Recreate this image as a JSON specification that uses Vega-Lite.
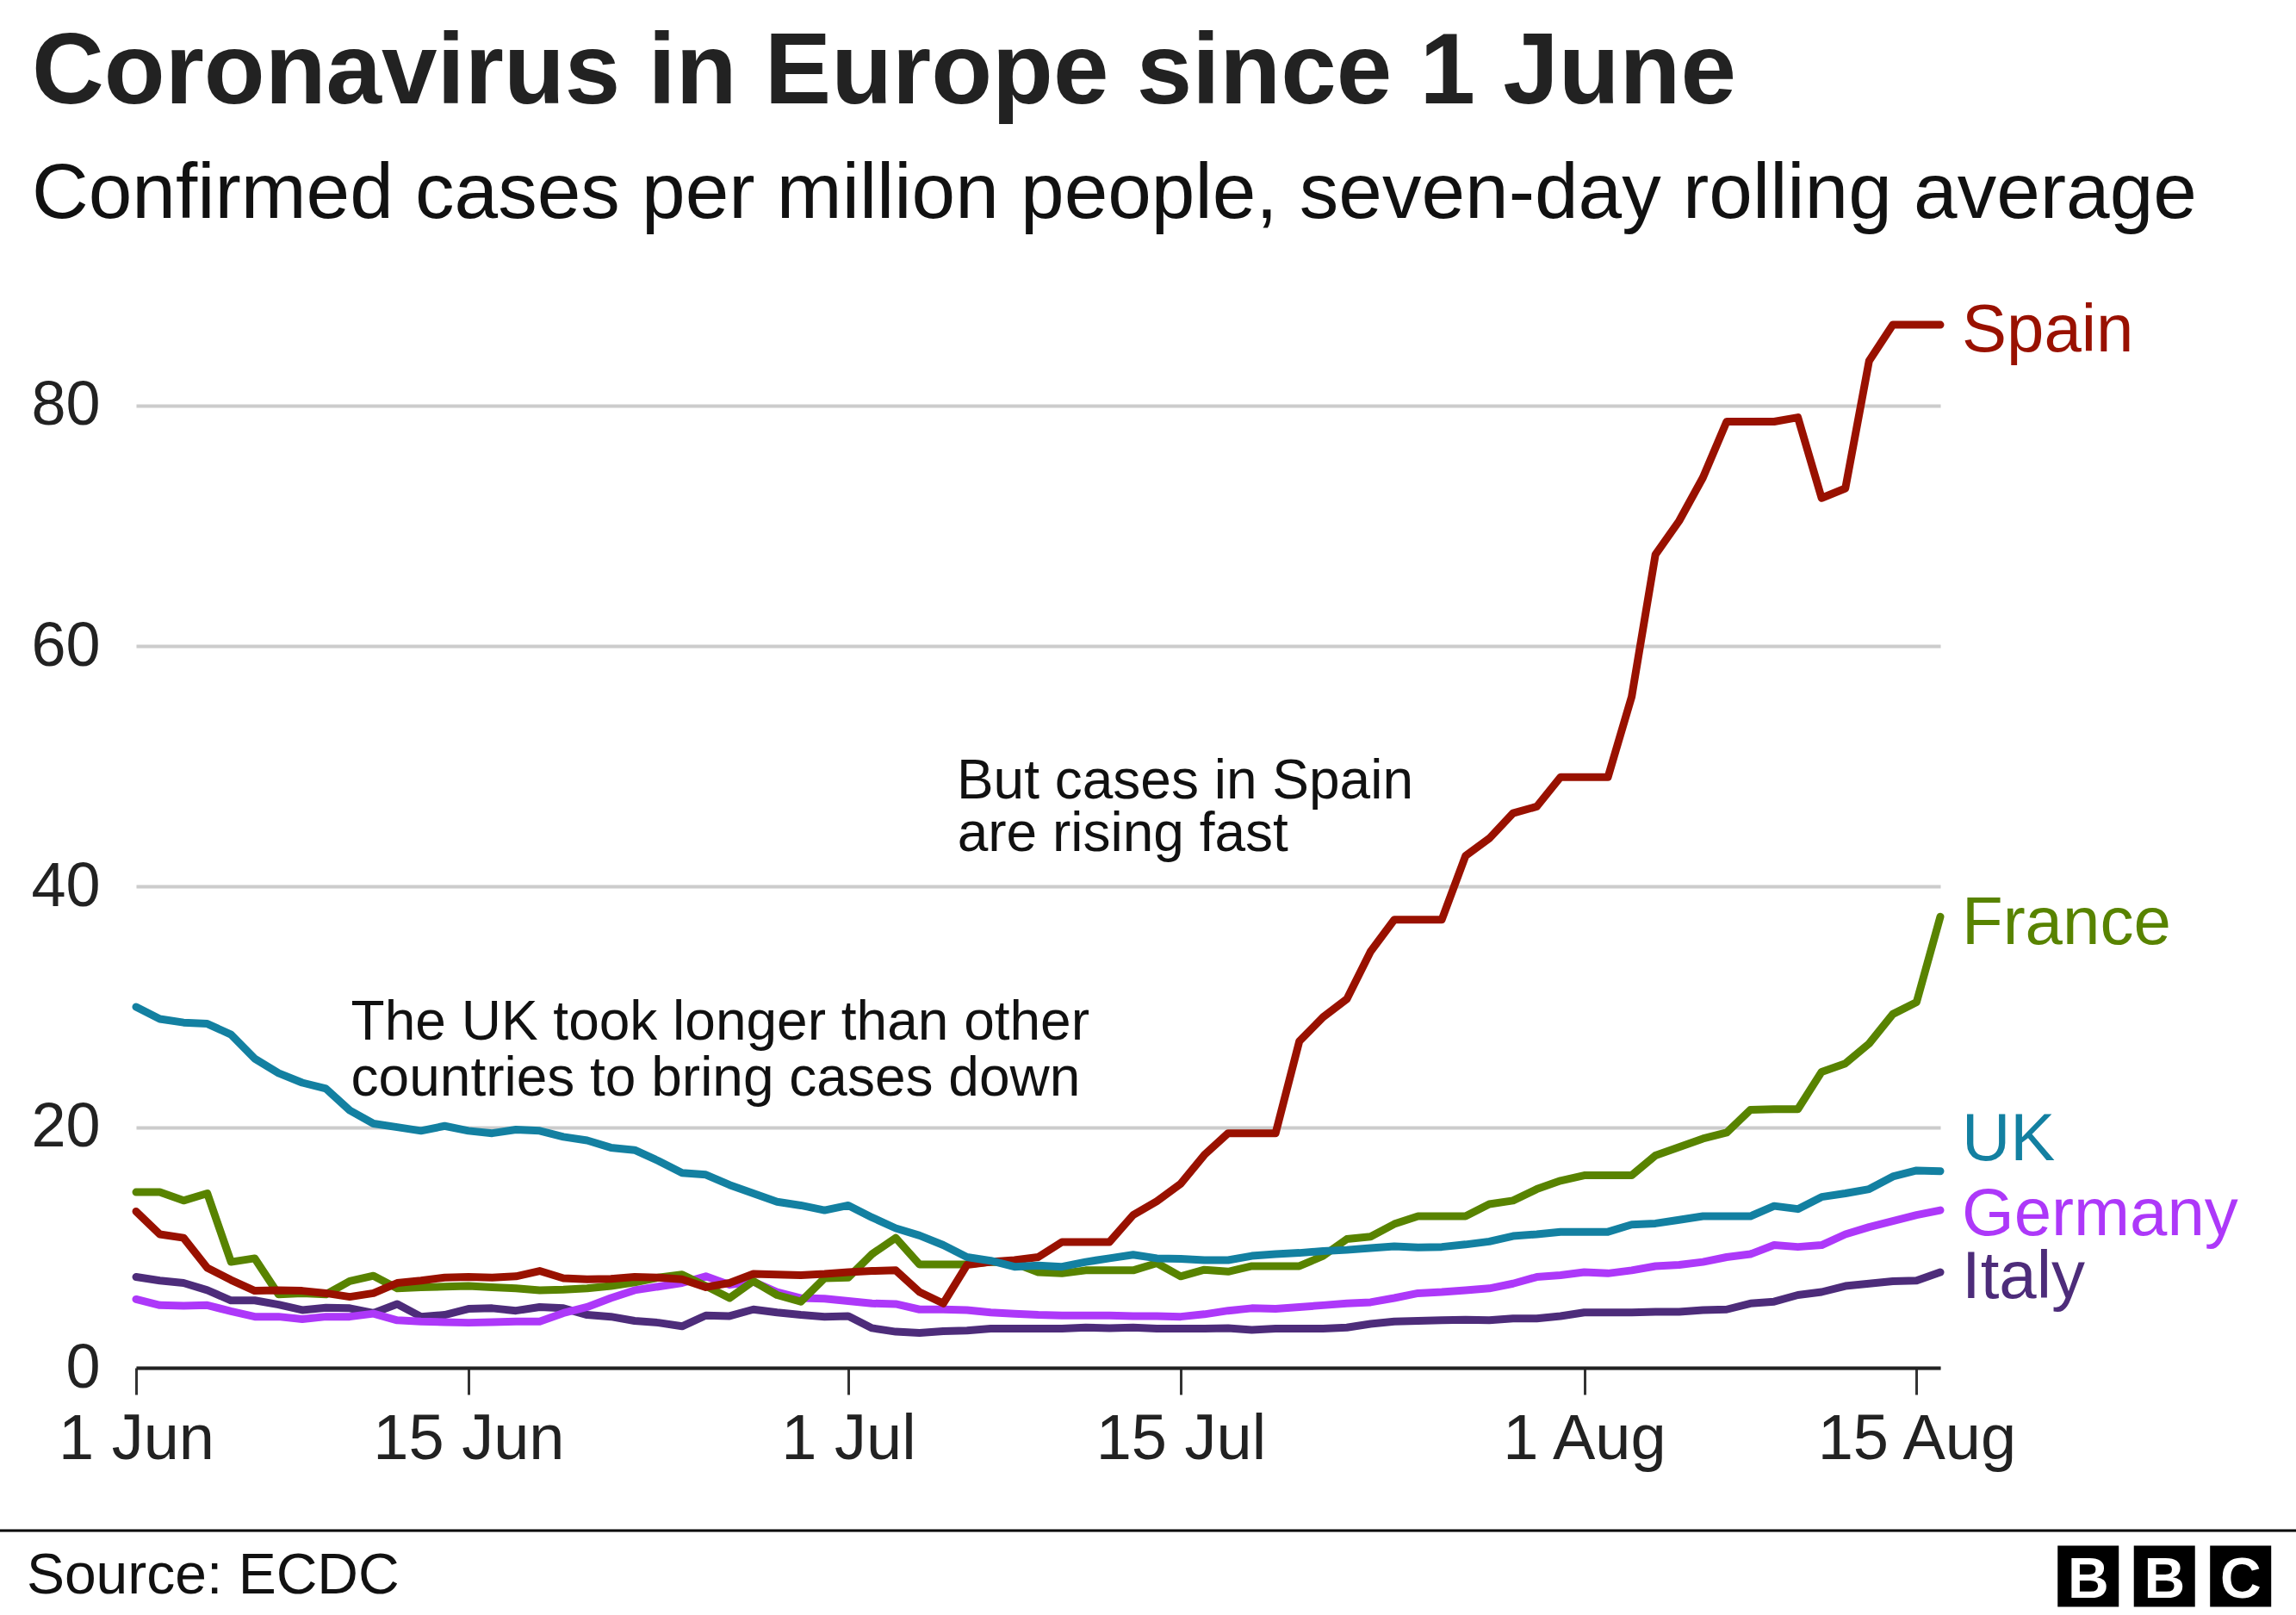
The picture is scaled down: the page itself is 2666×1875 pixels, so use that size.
{
  "$schema": "https://vega.github.io/schema/vega-lite/v6.json",
  "width": 2095,
  "height": 1257,
  "autosize": {"type": "none"},
  "padding": {"left": 158, "top": 331, "right": 413, "bottom": 287},
  "background": "#ffffff",
  "title": {
    "text": "Coronavirus in Europe since 1 June",
    "subtitle": "Confirmed cases per million people, seven-day rolling average",
    "anchor": "start",
    "frame": "group",
    "dx": -121,
    "offset": 59,
    "font": "Liberation Sans",
    "fontSize": 116,
    "fontWeight": "bold",
    "color": "#222222",
    "subtitleFont": "Liberation Sans",
    "subtitleFontSize": 91,
    "subtitleColor": "#111111",
    "subtitlePadding": 37
  },
  "config": {
    "view": {"stroke": null},
    "font": "Liberation Sans"
  },
  "resolve": {"axis": {"x": "independent", "y": "independent"}},
  "datasets": {
    "series": [
      {"date": "2020-06-01", "Spain": 13.0, "France": 14.6, "UK": 30.0, "Germany": 5.7, "Italy": 7.55},
      {"date": "2020-06-02", "Spain": 11.1, "France": 14.6, "UK": 29.0, "Germany": 5.2, "Italy": 7.25},
      {"date": "2020-06-03", "Spain": 10.8, "France": 13.9, "UK": 28.7, "Germany": 5.15, "Italy": 7.05},
      {"date": "2020-06-04", "Spain": 8.3, "France": 14.5, "UK": 28.6, "Germany": 5.2, "Italy": 6.45},
      {"date": "2020-06-05", "Spain": 7.3, "France": 8.8, "UK": 27.7, "Germany": 4.7, "Italy": 5.6},
      {"date": "2020-06-06", "Spain": 6.4, "France": 9.1, "UK": 25.7, "Germany": 4.25, "Italy": 5.6},
      {"date": "2020-06-07", "Spain": 6.45, "France": 6.1, "UK": 24.5, "Germany": 4.25, "Italy": 5.25},
      {"date": "2020-06-08", "Spain": 6.4, "France": 6.2, "UK": 23.7, "Germany": 4.05, "Italy": 4.8},
      {"date": "2020-06-09", "Spain": 6.2, "France": 6.1, "UK": 23.2, "Germany": 4.25, "Italy": 5.0},
      {"date": "2020-06-10", "Spain": 5.9, "France": 7.2, "UK": 21.4, "Germany": 4.25, "Italy": 4.95},
      {"date": "2020-06-11", "Spain": 6.2, "France": 7.65, "UK": 20.3, "Germany": 4.5, "Italy": 4.55},
      {"date": "2020-06-12", "Spain": 7.05, "France": 6.6, "UK": 20.0, "Germany": 3.95, "Italy": 5.3},
      {"date": "2020-06-13", "Spain": 7.25, "France": 6.7, "UK": 19.7, "Germany": 3.85, "Italy": 4.25},
      {"date": "2020-06-14", "Spain": 7.5, "France": 6.75, "UK": 20.1, "Germany": 3.8, "Italy": 4.4},
      {"date": "2020-06-15", "Spain": 7.55, "France": 6.8, "UK": 19.7, "Germany": 3.75, "Italy": 4.9},
      {"date": "2020-06-16", "Spain": 7.5, "France": 6.7, "UK": 19.5, "Germany": 3.8, "Italy": 4.95},
      {"date": "2020-06-17", "Spain": 7.6, "France": 6.6, "UK": 19.8, "Germany": 3.85, "Italy": 4.75},
      {"date": "2020-06-18", "Spain": 8.05, "France": 6.45, "UK": 19.7, "Germany": 3.85, "Italy": 5.05},
      {"date": "2020-06-19", "Spain": 7.45, "France": 6.5, "UK": 19.2, "Germany": 4.55, "Italy": 4.95},
      {"date": "2020-06-20", "Spain": 7.35, "France": 6.6, "UK": 18.9, "Germany": 5.05, "Italy": 4.4},
      {"date": "2020-06-21", "Spain": 7.4, "France": 6.8, "UK": 18.3, "Germany": 5.8, "Italy": 4.25},
      {"date": "2020-06-22", "Spain": 7.55, "France": 7.1, "UK": 18.1, "Germany": 6.45, "Italy": 3.9},
      {"date": "2020-06-23", "Spain": 7.5, "France": 7.5, "UK": 17.2, "Germany": 6.75, "Italy": 3.75},
      {"date": "2020-06-24", "Spain": 7.35, "France": 7.75, "UK": 16.2, "Germany": 7.05, "Italy": 3.45},
      {"date": "2020-06-25", "Spain": 6.7, "France": 6.8, "UK": 16.05, "Germany": 7.6, "Italy": 4.35},
      {"date": "2020-06-26", "Spain": 7.05, "France": 5.8, "UK": 15.2, "Germany": 6.9, "Italy": 4.3},
      {"date": "2020-06-27", "Spain": 7.8, "France": 7.2, "UK": 14.5, "Germany": 7.15, "Italy": 4.85},
      {"date": "2020-06-28", "Spain": 7.75, "France": 6.05, "UK": 13.8, "Germany": 6.3, "Italy": 4.6},
      {"date": "2020-06-29", "Spain": 7.7, "France": 5.5, "UK": 13.5, "Germany": 5.8, "Italy": 4.4},
      {"date": "2020-06-30", "Spain": 7.8, "France": 7.45, "UK": 13.1, "Germany": 5.75, "Italy": 4.25},
      {"date": "2020-07-01", "Spain": 7.95, "France": 7.5, "UK": 13.5, "Germany": 5.55, "Italy": 4.3},
      {"date": "2020-07-02", "Spain": 8.05, "France": 9.45, "UK": 12.5, "Germany": 5.35, "Italy": 3.3},
      {"date": "2020-07-03", "Spain": 8.1, "France": 10.8, "UK": 11.6, "Germany": 5.3, "Italy": 3.0},
      {"date": "2020-07-04", "Spain": 6.3, "France": 8.6, "UK": 11.0, "Germany": 4.85, "Italy": 2.9},
      {"date": "2020-07-05", "Spain": 5.35, "France": 8.6, "UK": 10.2, "Germany": 4.85, "Italy": 3.05},
      {"date": "2020-07-06", "Spain": 8.55, "France": 8.6, "UK": 9.2, "Germany": 4.8, "Italy": 3.1},
      {"date": "2020-07-07", "Spain": 8.8, "France": 8.8, "UK": 8.9, "Germany": 4.6, "Italy": 3.25},
      {"date": "2020-07-08", "Spain": 8.95, "France": 8.7, "UK": 8.4, "Germany": 4.5, "Italy": 3.25},
      {"date": "2020-07-09", "Spain": 9.2, "France": 7.95, "UK": 8.5, "Germany": 4.4, "Italy": 3.25},
      {"date": "2020-07-10", "Spain": 10.45, "France": 7.85, "UK": 8.4, "Germany": 4.35, "Italy": 3.25},
      {"date": "2020-07-11", "Spain": 10.45, "France": 8.1, "UK": 8.8, "Germany": 4.35, "Italy": 3.35},
      {"date": "2020-07-12", "Spain": 10.45, "France": 8.1, "UK": 9.1, "Germany": 4.35, "Italy": 3.3},
      {"date": "2020-07-13", "Spain": 12.7, "France": 8.1, "UK": 9.4, "Germany": 4.3, "Italy": 3.35},
      {"date": "2020-07-14", "Spain": 13.85, "France": 8.7, "UK": 9.1, "Germany": 4.3, "Italy": 3.25},
      {"date": "2020-07-15", "Spain": 15.3, "France": 7.6, "UK": 9.05, "Germany": 4.25, "Italy": 3.25},
      {"date": "2020-07-16", "Spain": 17.7, "France": 8.15, "UK": 8.95, "Germany": 4.45, "Italy": 3.25},
      {"date": "2020-07-17", "Spain": 19.5, "France": 8.0, "UK": 8.95, "Germany": 4.75, "Italy": 3.3},
      {"date": "2020-07-18", "Spain": 19.5, "France": 8.45, "UK": 9.3, "Germany": 4.95, "Italy": 3.15},
      {"date": "2020-07-19", "Spain": 19.5, "France": 8.45, "UK": 9.45, "Germany": 4.9, "Italy": 3.25},
      {"date": "2020-07-20", "Spain": 27.15, "France": 8.45, "UK": 9.55, "Germany": 5.05, "Italy": 3.25},
      {"date": "2020-07-21", "Spain": 29.15, "France": 9.3, "UK": 9.7, "Germany": 5.2, "Italy": 3.25},
      {"date": "2020-07-22", "Spain": 30.65, "France": 10.7, "UK": 9.8, "Germany": 5.35, "Italy": 3.35},
      {"date": "2020-07-23", "Spain": 34.6, "France": 10.9, "UK": 9.95, "Germany": 5.45, "Italy": 3.65},
      {"date": "2020-07-24", "Spain": 37.25, "France": 11.95, "UK": 10.1, "Germany": 5.8, "Italy": 3.85},
      {"date": "2020-07-25", "Spain": 37.25, "France": 12.6, "UK": 10.0, "Germany": 6.2, "Italy": 3.9},
      {"date": "2020-07-26", "Spain": 37.25, "France": 12.6, "UK": 10.05, "Germany": 6.3, "Italy": 3.95},
      {"date": "2020-07-27", "Spain": 42.55, "France": 12.6, "UK": 10.25, "Germany": 6.45, "Italy": 4.0},
      {"date": "2020-07-28", "Spain": 44.0, "France": 13.6, "UK": 10.5, "Germany": 6.6, "Italy": 3.95},
      {"date": "2020-07-29", "Spain": 46.1, "France": 13.9, "UK": 10.95, "Germany": 7.0, "Italy": 4.1},
      {"date": "2020-07-30", "Spain": 46.65, "France": 14.85, "UK": 11.1, "Germany": 7.55, "Italy": 4.1},
      {"date": "2020-07-31", "Spain": 49.1, "France": 15.55, "UK": 11.3, "Germany": 7.7, "Italy": 4.3},
      {"date": "2020-08-01", "Spain": 49.1, "France": 16.0, "UK": 11.3, "Germany": 7.95, "Italy": 4.6},
      {"date": "2020-08-02", "Spain": 49.1, "France": 16.0, "UK": 11.3, "Germany": 7.85, "Italy": 4.6},
      {"date": "2020-08-03", "Spain": 55.8, "France": 16.0, "UK": 11.9, "Germany": 8.1, "Italy": 4.6},
      {"date": "2020-08-04", "Spain": 67.6, "France": 17.65, "UK": 12.0, "Germany": 8.45, "Italy": 4.65},
      {"date": "2020-08-05", "Spain": 70.4, "France": 18.35, "UK": 12.3, "Germany": 8.55, "Italy": 4.65},
      {"date": "2020-08-06", "Spain": 74.0, "France": 19.05, "UK": 12.6, "Germany": 8.8, "Italy": 4.8},
      {"date": "2020-08-07", "Spain": 78.65, "France": 19.55, "UK": 12.6, "Germany": 9.2, "Italy": 4.85},
      {"date": "2020-08-08", "Spain": 78.65, "France": 21.45, "UK": 12.6, "Germany": 9.45, "Italy": 5.35},
      {"date": "2020-08-09", "Spain": 78.65, "France": 21.5, "UK": 13.45, "Germany": 10.2, "Italy": 5.5},
      {"date": "2020-08-10", "Spain": 79.0, "France": 21.5, "UK": 13.2, "Germany": 10.05, "Italy": 6.05},
      {"date": "2020-08-11", "Spain": 72.3, "France": 24.6, "UK": 14.2, "Germany": 10.2, "Italy": 6.3},
      {"date": "2020-08-12", "Spain": 73.1, "France": 25.3, "UK": 14.5, "Germany": 11.1, "Italy": 6.8},
      {"date": "2020-08-13", "Spain": 83.7, "France": 26.95, "UK": 14.85, "Germany": 11.7, "Italy": 7.0},
      {"date": "2020-08-14", "Spain": 86.7, "France": 29.4, "UK": 15.9, "Germany": 12.2, "Italy": 7.2},
      {"date": "2020-08-15", "Spain": 86.7, "France": 30.4, "UK": 16.4, "Germany": 12.7, "Italy": 7.25},
      {"date": "2020-08-16", "Spain": 86.7, "France": 37.5, "UK": 16.35, "Germany": 13.1, "Italy": 7.95}
    ],
    "labels": [
      {"country": "Spain", "date": "2020-08-16", "value": 84.5},
      {"country": "France", "date": "2020-08-16", "value": 35.2},
      {"country": "UK", "date": "2020-08-16", "value": 17.24},
      {"country": "Germany", "date": "2020-08-16", "value": 11.03},
      {"country": "Italy", "date": "2020-08-16", "value": 5.82}
    ],
    "notes": [
      {"date": "2020-06-10T01:20:00Z", "value": 27.31, "note": "The UK took longer than other"},
      {"date": "2020-06-10T01:20:00Z", "value": 22.66, "note": "countries to bring cases down"},
      {"date": "2020-07-05T13:40:00Z", "value": 47.36, "note": "But cases in Spain"},
      {"date": "2020-07-05T14:20:00Z", "value": 42.95, "note": "are rising fast"}
    ],
    "footer": [
      {"start": "2020-05-26T00:00:00Z", "end": "2020-09-01T00:00:00Z", "value": -13.54}
    ],
    "source": [
      {"date": "2020-05-27T09:20:00Z", "value": -18.76, "note": "Source: ECDC"}
    ],
    "logo": [
      {"date": "2020-08-22T05:31:00Z", "value": -17.33, "letter": "B", "base": -19.1},
      {"date": "2020-08-25T10:34:00Z", "value": -17.33, "letter": "B", "base": -19.1},
      {"date": "2020-08-28T15:36:00Z", "value": -17.33, "letter": "C", "base": -19.1}
    ]
  },
  "layer": [
    {
      "data": {"name": "series"},
      "transform": [{"fold": ["Italy", "Germany", "France", "Spain", "UK"], "as": ["country", "value"]}],
      "mark": {"type": "line", "strokeWidth": 9, "strokeCap": "round", "strokeJoin": "round", "clip": false},
      "encoding": {
        "x": {
          "field": "date",
          "type": "temporal",
          "scale": {
            "type": "utc",
            "domain": [
              {"year": 2020, "month": 6, "date": 1, "utc": true},
              {"year": 2020, "month": 8, "date": 16, "utc": true}
            ]
          },
          "axis": {
            "title": null,
            "values": [
              {"year": 2020, "month": 6, "date": 1, "utc": true},
              {"year": 2020, "month": 6, "date": 15, "utc": true},
              {"year": 2020, "month": 7, "date": 1, "utc": true},
              {"year": 2020, "month": 7, "date": 15, "utc": true},
              {"year": 2020, "month": 8, "date": 1, "utc": true},
              {"year": 2020, "month": 8, "date": 15, "utc": true}
            ],
            "labelExpr": "utcFormat(datum.value, '%-d %b')",
            "labelFont": "Liberation Sans",
            "labelFontSize": 74,
            "labelColor": "#222222",
            "labelPadding": 16,
            "labelLimit": 600,
            "labelFlush": false,
            "labelOverlap": false,
            "tickSize": 31,
            "tickWidth": 3,
            "tickColor": "#333333",
            "domainColor": "#222222",
            "domainWidth": 4,
            "grid": false
          }
        },
        "y": {
          "field": "value",
          "type": "quantitative",
          "scale": {"domain": [0, 90], "nice": false, "zero": true},
          "axis": {
            "title": null,
            "values": [0, 20, 40, 60, 80],
            "grid": true,
            "gridColor": "#cccccc",
            "gridWidth": 4,
            "domain": false,
            "ticks": false,
            "labelFont": "Liberation Sans",
            "labelFontSize": 72,
            "labelColor": "#222222",
            "labelPadding": 42
          }
        },
        "color": {
          "field": "country",
          "type": "nominal",
          "scale": {
            "domain": ["Spain", "France", "UK", "Germany", "Italy"],
            "range": ["#991100", "#588300", "#1380a1", "#ad38f9", "#4d2c7a"]
          },
          "legend": null
        }
      }
    },
    {
      "data": {"name": "labels"},
      "mark": {"type": "text", "align": "left", "baseline": "alphabetic", "dx": 25, "fontSize": 78, "font": "Liberation Sans"},
      "encoding": {
        "x": {"field": "date", "type": "temporal", "axis": null},
        "y": {"field": "value", "type": "quantitative", "axis": null},
        "text": {"field": "country"},
        "color": {"field": "country", "type": "nominal", "legend": null}
      }
    },
    {
      "data": {"name": "notes"},
      "mark": {"type": "text", "align": "left", "baseline": "alphabetic", "fontSize": 64, "font": "Liberation Sans", "color": "#111111"},
      "encoding": {
        "x": {"field": "date", "type": "temporal", "axis": null},
        "y": {"field": "value", "type": "quantitative", "axis": null},
        "text": {"field": "note"}
      }
    },
    {
      "data": {"name": "footer"},
      "mark": {"type": "rule", "color": "#000000", "strokeWidth": 3},
      "encoding": {
        "x": {"field": "start", "type": "temporal", "axis": null},
        "x2": {"field": "end"},
        "y": {"field": "value", "type": "quantitative", "axis": null}
      }
    },
    {
      "data": {"name": "source"},
      "mark": {"type": "text", "align": "left", "baseline": "alphabetic", "fontSize": 66, "font": "Liberation Sans", "color": "#111111"},
      "encoding": {
        "x": {"field": "date", "type": "temporal", "axis": null},
        "y": {"field": "value", "type": "quantitative", "axis": null},
        "text": {"field": "note"}
      }
    },
    {
      "data": {"name": "logo"},
      "mark": {"type": "square", "size": 5041, "color": "#000000", "opacity": 1, "filled": true},
      "encoding": {
        "x": {"field": "date", "type": "temporal", "axis": null},
        "y": {"field": "value", "type": "quantitative", "axis": null}
      }
    },
    {
      "data": {"name": "logo"},
      "mark": {"type": "text", "align": "center", "baseline": "alphabetic", "fontSize": 66, "fontWeight": "bold", "font": "Liberation Sans", "color": "#ffffff"},
      "encoding": {
        "x": {"field": "date", "type": "temporal", "axis": null},
        "y": {"field": "base", "type": "quantitative", "axis": null},
        "text": {"field": "letter"}
      }
    }
  ]
}
